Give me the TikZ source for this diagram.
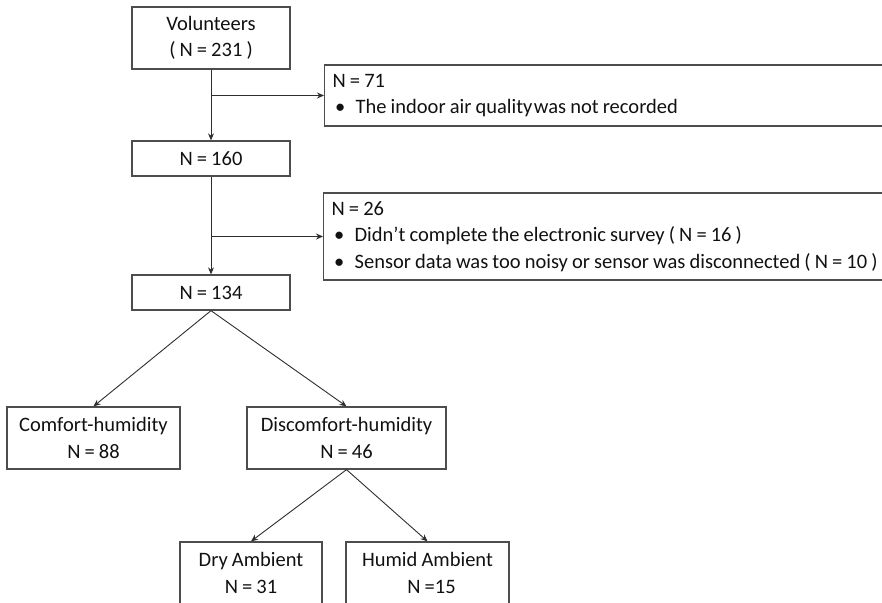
\documentclass[tikz,border=0pt]{standalone}
\usepackage{fontspec}
\setmainfont{Carlito}
\usetikzlibrary{arrows.meta}
\definecolor{boxgray}{HTML}{4D4D4D}
\definecolor{linegray}{HTML}{2E2E2E}
\definecolor{txt}{HTML}{111111}
\newcommand{\bul}{\makebox[23pt][l]{\hspace{2.5pt}\textbullet}}
\newcommand{\tightsp}{\spaceskip=4.1pt plus 0.2pt minus 0.2pt\relax}
\begin{document}
\begin{tikzpicture}[x=1pt,y=-1pt,
  box/.style={draw=boxgray, line width=1.3pt, rectangle, inner sep=0pt,
    align=center, font=\fontsize{20.5}{26.5}\selectfont, text=txt,
    execute at begin node={\tightsp}},
  exbox/.style={box, align=left, anchor=west, inner xsep=8pt, inner ysep=0pt,
    text width=560pt, minimum width=576pt},
  conn/.style={draw=linegray, line width=0.9pt, -{Stealth[length=7pt,width=6pt]}},
]
\useasboundingbox (0,0) rectangle (882,602);
\clip (0,0) rectangle (882,602);

\node[box, minimum width=158pt, minimum height=62pt] (vol) at (211,38) {Volunteers\\( N = 231 )};
\node[box, minimum width=158pt, minimum height=35pt] (n160) at (211,158.5) {N = 160};
\node[box, minimum width=158pt, minimum height=35pt] (n134) at (211,292.5) {N = 134};

\node[exbox, minimum height=61pt] (ex71) at (324,95.5)
  {N = 71\\\bul The indoor air quality\hspace{1.5pt}was not recorded};
\node[exbox, minimum height=87pt] (ex26) at (323,236.5)
  {N = 26\\\bul Didn’t complete the electronic survey ( N = 16 )\\\bul Sensor data was too noisy or sensor was disconnected ( N = 10 )};

\node[box, minimum width=173pt, minimum height=62pt] (comfort) at (93.5,438) {Comfort-humidity\\N = 88};
\node[box, minimum width=199pt, minimum height=62pt] (discomfort) at (346.5,438) {Discomfort-humidity\\N = 46};
\node[box, minimum width=142pt, minimum height=62pt] (dry) at (251,573) {Dry Ambient\\N = 31};
\node[box, minimum width=163pt, minimum height=62pt] (humid) at (427.5,573) {Humid Ambient\\\hspace{8pt}N =15};

\draw[conn] (vol) -- (n160);
\draw[conn] (vol.south |- ex71.west) -- (ex71.west);
\draw[conn] (n160) -- (n134);
\draw[conn] (n160.south |- ex26.west) -- (ex26.west);
\draw[conn] (n134.south) -- (comfort.north);
\draw[conn] (n134.south) -- (discomfort.north);
\draw[conn] (discomfort.south) -- (dry.north);
\draw[conn] (discomfort.south) -- (humid.north);
\end{tikzpicture}
\end{document}
